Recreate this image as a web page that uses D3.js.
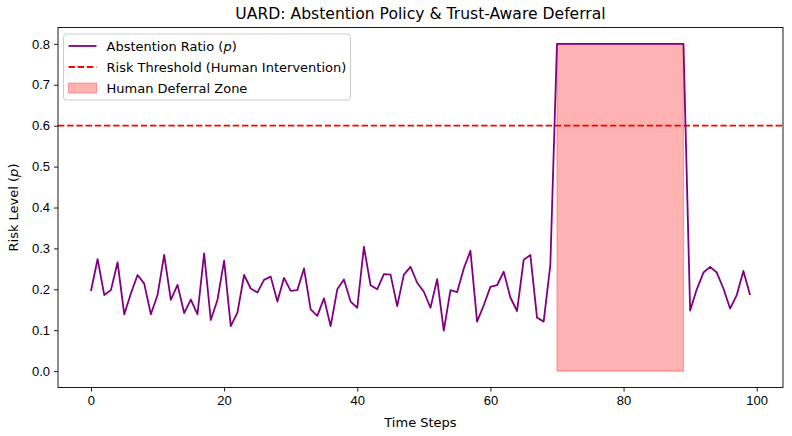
<!DOCTYPE html>
<html>
<head>
<meta charset="utf-8">
<script src="https://cdn.jsdelivr.net/npm/d3@7"></script>
<style>
  body { margin: 0; background: #fff; }
  svg { font-family: "DejaVu Sans", sans-serif; }
  .axis line { stroke: #000; stroke-width: 0.9; }
  .axis text { font-size: 13px; fill: #000; }
</style>
</head>
<body>
<div id="chart"></div>
<script>
// abstention ratio per time step
var steps = d3.range(0, 100);
var ratio = [
  0.196, 0.274, 0.186, 0.198, 0.266, 0.139, 0.190, 0.235, 0.214, 0.139,
  0.186, 0.284, 0.174, 0.211, 0.142, 0.175, 0.139, 0.288, 0.125, 0.174,
  0.270, 0.110, 0.143, 0.235, 0.202, 0.192, 0.223, 0.231, 0.170, 0.228,
  0.196, 0.198, 0.251, 0.151, 0.135, 0.178, 0.110, 0.200, 0.224, 0.170,
  0.155, 0.304, 0.210, 0.200, 0.237, 0.236, 0.159, 0.236, 0.255, 0.216,
  0.194, 0.155, 0.225, 0.099, 0.198, 0.193, 0.251, 0.294, 0.121, 0.161,
  0.206, 0.210, 0.243, 0.180, 0.147, 0.272, 0.284, 0.131, 0.121, 0.259,
  0.8, 0.8, 0.8, 0.8, 0.8, 0.8, 0.8, 0.8, 0.8, 0.8,
  0.8, 0.8, 0.8, 0.8, 0.8, 0.8, 0.8, 0.8, 0.8, 0.8,
  0.148, 0.200, 0.241, 0.255, 0.241, 0.202, 0.153, 0.186, 0.245, 0.186
];
var threshold = 0.6;
var deferralZone = [70, 89];
var deferralLevel = 0.8;
var xTicks = [0, 20, 40, 60, 80, 100];
var yTicks = [0, 0.1, 0.2, 0.3, 0.4, 0.5, 0.6, 0.7, 0.8];
var legendLabels = ["Abstention Ratio (", "Risk Threshold (Human Intervention)", "Human Deferral Zone"];

var margin = {top: 27.5, bottom: 48.5, left: 58, right: 9},
  width = 792 - margin.left - margin.right,
  height = 436 - margin.top - margin.bottom;

var svg = d3.select("#chart")
    .append("svg")
    .attr("width", 792)
    .attr("height", 436);

var g = svg.append("g")
    .attr("transform", "translate(" + margin.left + "," + margin.top + ")");

var x = d3.scaleLinear()
    .domain([-4.95, 103.95])
    .range([0, width]);

var y = d3.scaleLinear()
    .domain([-0.04, 0.84])
    .range([height, 0]);

// deferral zone
var zone = steps.filter(function(d) { return d >= deferralZone[0] && d <= deferralZone[1]; });
g.append("path")
    .datum(zone)
    .attr("d", d3.area()
      .x(function(d) { return x(d); })
      .y0(y(0))
      .y1(function(d) { return y(deferralLevel); }))
    .attr("fill", "red")
    .attr("fill-opacity", 0.3)
    .attr("stroke", "red")
    .attr("stroke-opacity", 0.3)
    .attr("stroke-width", 1.2);

// threshold
g.append("line")
    .attr("x1", 0)
    .attr("x2", width)
    .attr("y1", y(threshold))
    .attr("y2", y(threshold))
    .attr("stroke", "red")
    .attr("stroke-width", 1.8)
    .attr("stroke-dasharray", "6.4,2.8");

// abstention ratio line
g.append("path")
    .datum(steps)
    .attr("d", d3.line()
      .x(function(d) { return x(d); })
      .y(function(d) { return y(ratio[d]); }))
    .attr("fill", "none")
    .attr("stroke", "purple")
    .attr("stroke-width", 1.8)
    .attr("stroke-linejoin", "round");

// axes
var xAxis = g.append("g")
    .attr("class", "x axis")
    .attr("transform", "translate(0," + height + ")")
    .call(d3.axisBottom(x).tickValues(xTicks).tickSizeOuter(0).tickSize(4).tickPadding(4).tickFormat(d3.format("d")));
xAxis.select(".domain").remove();

var yAxis = g.append("g")
    .attr("class", "y axis")
    .call(d3.axisLeft(y).tickValues(yTicks).tickSizeOuter(0).tickSize(4).tickPadding(4).tickFormat(d3.format(".1f")));
yAxis.select(".domain").remove();

// frame
g.append("rect")
    .attr("width", width)
    .attr("height", height)
    .attr("fill", "none")
    .attr("stroke", "#000")
    .attr("stroke-width", 0.9);

// title and labels
svg.append("text")
    .attr("x", margin.left + width / 2)
    .attr("y", 19)
    .attr("text-anchor", "middle")
    .style("font-size", "15.6px")
    .text("UARD: Abstention Policy & Trust-Aware Deferral");

svg.append("text")
    .attr("x", margin.left + width / 2)
    .attr("y", 427)
    .attr("text-anchor", "middle")
    .style("font-size", "13px")
    .text("Time Steps");

var yl = svg.append("text")
    .attr("transform", "translate(18," + (margin.top + height / 2) + ") rotate(-90)")
    .attr("text-anchor", "middle")
    .style("font-size", "13px");
yl.append("tspan").text("Risk Level (");
yl.append("tspan").style("font-style", "italic").text("p");
yl.append("tspan").text(")");

// legend
var lg = svg.append("g").attr("transform", "translate(63.5,34)");
lg.append("rect")
    .attr("width", 287)
    .attr("height", 66)
    .attr("rx", 3)
    .attr("fill", "#fff")
    .attr("fill-opacity", 0.8)
    .attr("stroke", "#ccc");

lg.append("line")
    .attr("x1", 5).attr("x2", 33).attr("y1", 12).attr("y2", 12)
    .attr("stroke", "purple").attr("stroke-width", 1.8);
lg.append("line")
    .attr("x1", 5).attr("x2", 33).attr("y1", 33).attr("y2", 33)
    .attr("stroke", "red").attr("stroke-width", 1.8).attr("stroke-dasharray", "6.4,2.8");
lg.append("rect")
    .attr("x", 5).attr("y", 49).attr("width", 28).attr("height", 10)
    .attr("fill", "red").attr("fill-opacity", 0.3)
    .attr("stroke", "red").attr("stroke-opacity", 0.3);

var t1 = lg.append("text").attr("x", 43).attr("y", 16.5).style("font-size", "13px");
t1.append("tspan").text(legendLabels[0]);
t1.append("tspan").style("font-style", "italic").text("p");
t1.append("tspan").text(")");
lg.append("text").attr("x", 43).attr("y", 37.5).style("font-size", "13px").text(legendLabels[1]);
lg.append("text").attr("x", 43).attr("y", 58.5).style("font-size", "13px").text(legendLabels[2]);
</script>
</body>
</html>
